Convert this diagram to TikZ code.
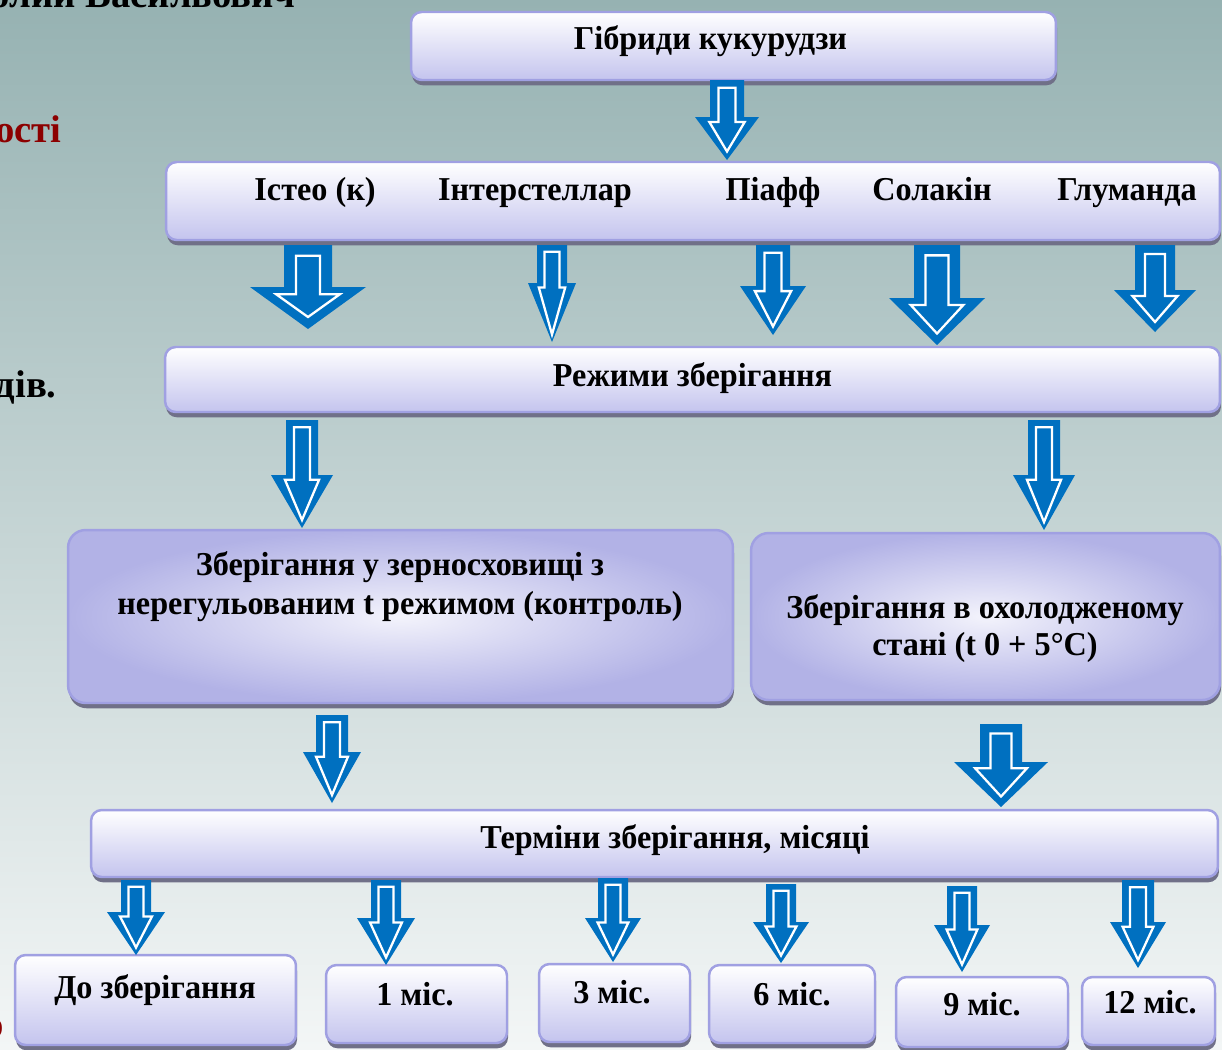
\documentclass[tikz,border=0pt]{standalone}
\usepackage{fontspec}
\setmainfont{Liberation Serif}
\usepackage{tikz}
\usetikzlibrary{positioning, calc, shadows}

\definecolor{arrowblue}{RGB}{0,112,192}
\definecolor{boxline}{RGB}{160,160,226}
\definecolor{boxlow}{RGB}{196,196,238}
\definecolor{boxdeep}{RGB}{178,178,230}
\definecolor{shadowgray}{RGB}{112,112,136}
\definecolor{bgtop}{RGB}{150,178,178}
\definecolor{bgbottom}{RGB}{243,246,246}
\definecolor{darkred}{RGB}{140,0,0}

\begin{document}
\begin{tikzpicture}[
        x=0.02cm, y=-0.02cm,
        box/.style={draw=boxline, line width=1.4pt, rounded corners=6pt, top color=white, bottom color=boxlow,
            drop shadow={shadow xshift=0.6pt, shadow yshift=-3pt, fill=shadowgray, opacity=1}},
        bigbox/.style={box, rounded corners=10pt, inner color=white!80!boxlow, outer color=boxdeep},
        label/.style={font=\fontsize{19}{23}\selectfont\bfseries, inner sep=0pt, anchor=base, xscale=0.965},
        side/.style={font=\fontsize{22}{26}\selectfont\bfseries, inner sep=0pt, anchor=base east},
        arrowfill/.style={fill=arrowblue},
        arrowline/.style={draw=white, line width=1.3pt, line join=miter}
    ]
    \useasboundingbox (0,0) rectangle (1222,1049);
    \shade[top color=bgtop, bottom color=bgbottom] (0,0) rectangle (1222,1049);

    % fragments of the slide text behind the chart
    \node[side] (frag1) at (296,7) {толии Васильович};
    \node[side, text=darkred] (frag2) at (62,142) {ості};
    \node[side] (frag3) at (57,397) {дів.};
    \node[side, text=darkred] (frag4) at (4,1037) {о};

    % boxes
    \node[box, minimum width=12.9cm, minimum height=1.36cm] (hybrids) at (733.5,46) {};
    \node[box, minimum width=21.08cm, minimum height=1.56cm] (varieties) at (693,201) {};
    \node[box, minimum width=21.1cm, minimum height=1.3cm] (modes) at (692.5,379.5) {};
    \node[bigbox, minimum width=13.3cm, minimum height=3.46cm] (control) at (400.5,616.5) {};
    \node[bigbox, minimum width=9.38cm, minimum height=3.34cm] (cooled) at (985.5,616.5) {};
    \node[box, minimum width=22.54cm, minimum height=1.34cm] (terms) at (654.5,843.5) {};

    \node[box, minimum width=5.62cm, minimum height=1.8cm] (m0) at (155.5,1000) {};
    \node[box, minimum width=3.62cm, minimum height=1.56cm] (m1) at (416.5,1004) {};
    \node[box, minimum width=3.02cm, minimum height=1.56cm] (m3) at (614.5,1003) {};
    \node[box, minimum width=3.32cm, minimum height=1.56cm] (m6) at (792,1004) {};
    \node[box, minimum width=3.44cm, minimum height=1.4cm] (m9) at (982,1012) {};
    \node[box, minimum width=2.66cm, minimum height=1.36cm] (m12) at (1148.5,1011) {};

    % texts
    \node[label] (t-hybrids) at (710.5,49) {Гібриди кукурудзи};
    \foreach \x/\name/\txt in {315/isteo/Істео (к), 535/inter/Інтерстеллар, 773/piaff/Піафф, 932/solakin/Солакін, 1127/glumanda/Глуманда} {
        \node[label] (t-\name) at (\x,200) {\txt};
    }
    \node[label] (t-modes) at (692.5,386) {Режими зберігання};
    \node[label] (t-control1) at (400,575) {Зберігання у зерносховищі з};
    \node[label] (t-control2) at (400,614) {нерегульованим t режимом (контроль)};
    \node[label] (t-cooled1) at (985,618) {Зберігання в охолодженому};
    \node[label] (t-cooled2) at (985,655) {стані (t 0 + 5°C)};
    \node[label] (t-terms) at (675,848) {Терміни зберігання, місяці};
    \foreach \x/\y/\name/\txt in {155/998/m0/До зберігання, 415/1005/m1/1 міс., 612/1003/m3/3 міс., 792/1005/m6/6 міс., 982/1015/m9/9 міс., 1150/1013/m12/12 міс.} {
        \node[label] (t-\name) at (\x,\y) {\txt};
    }

    % hollow block arrows: centre x, top, head start, tip, half shaft, half head
    \foreach \cx/\ya/\yb/\yc/\s/\h in {
        727/80/117/160/17/32,
        308/245/287/329/24/58, 552/245/283/342/15/24, 773/245/286/335/17/33,
        937/245/298/345/23/48, 1155/245/290/332/20/41,
        302/420/475/528/16/31, 1044/420/475/530/16/31,
        332/715/752/803/16/29, 1001/724/762/807/21/47,
        136/880/912/955/15/29, 386/880/918/965/15/29, 613/878/918/962/15/28,
        781/884/922/963/15/28, 962/886/925/972/15/28, 1138/880/922/968/16/28} {
        \fill[arrowfill] (\cx-\s,\ya) -- (\cx+\s,\ya) -- (\cx+\s,\yb) -- (\cx+\h,\yb) -- (\cx,\yc)
            -- (\cx-\h,\yb) -- (\cx-\s,\yb) -- cycle;
        \draw[arrowline] ({\cx-0.5*\s},{\ya+0.45*\s}) -- ({\cx+0.5*\s},{\ya+0.45*\s}) -- ({\cx+0.5*\s},{\yb+0.3*\s})
            -- ({\cx+0.55*\h},{\yb+0.3*\s}) -- (\cx,{\yc-0.5*\s}) -- ({\cx-0.55*\h},{\yb+0.3*\s})
            -- ({\cx-0.5*\s},{\yb+0.3*\s}) -- cycle;
    }
\end{tikzpicture}
\end{document}
